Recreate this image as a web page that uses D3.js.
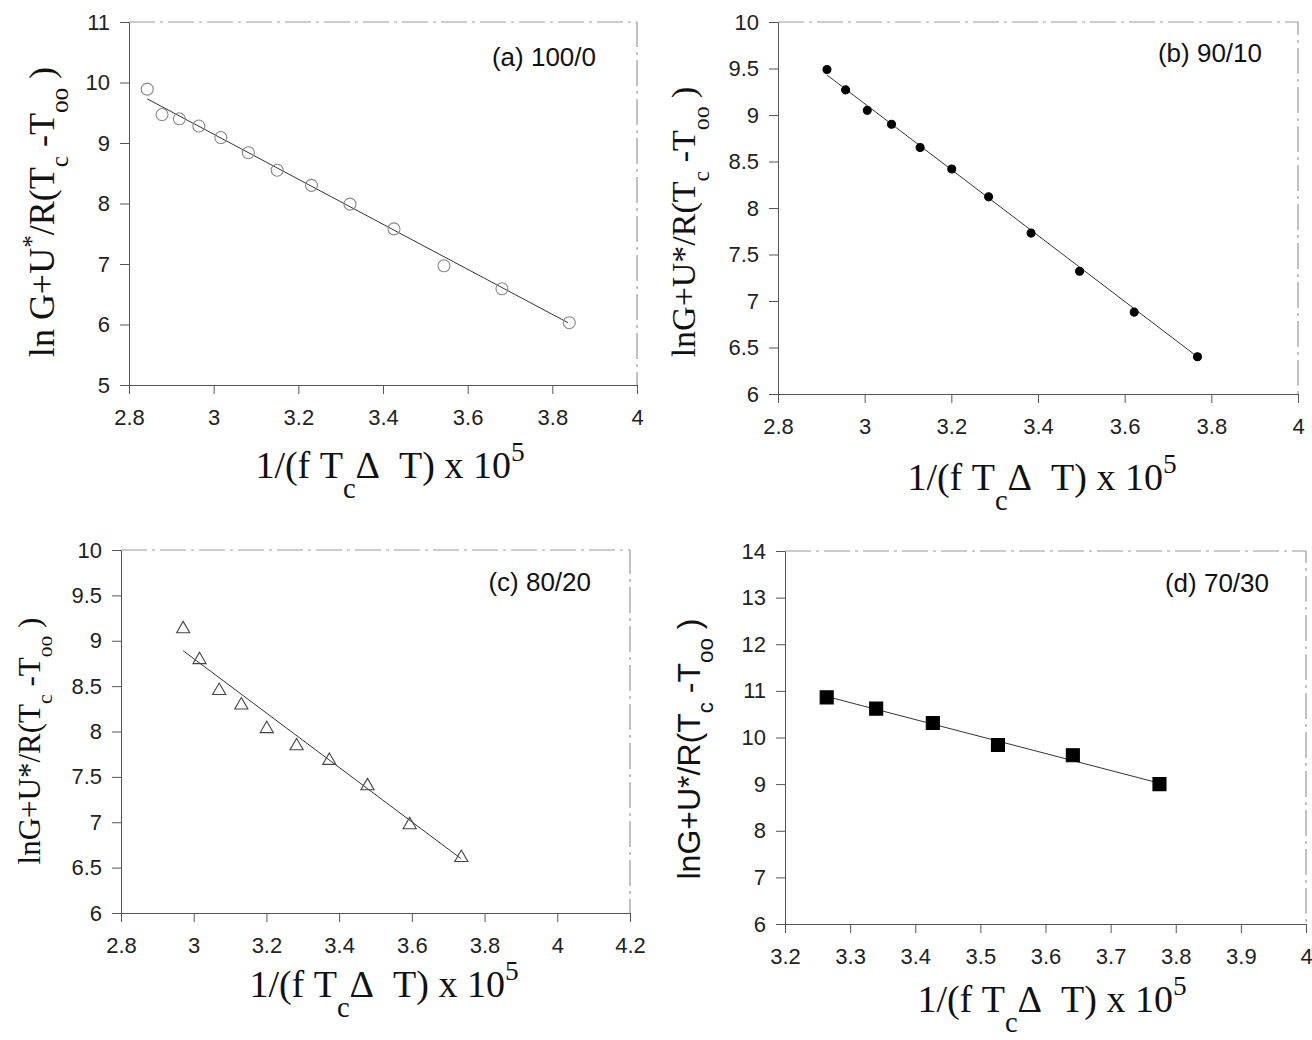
<!DOCTYPE html>
<html>
<head>
<meta charset="utf-8">
<script src="https://cdn.jsdelivr.net/npm/d3@7"></script>
<style>
body { margin: 0; background: #fff; }
svg { display: block; }
.tick text { font-family: "Liberation Sans", Arial, sans-serif; font-size: 22px; fill: #222; }
.tick line, .domain { stroke: #555; }
</style>
</head>
<body>
<div id="chart"></div>
<script>
// (a) 100/0  - open circles
var xA = [2.843, 2.878, 2.919, 2.965, 3.017, 3.082, 3.150, 3.231, 3.322, 3.426, 3.544, 3.681, 3.840];
var yA = [9.89, 9.47, 9.40, 9.28, 9.09, 8.84, 8.55, 8.30, 7.99, 7.58, 6.97, 6.59, 6.03];
var fitXA = [2.843, 3.837];
var fitYA = [9.73, 6.03];
var xTicksA = [2.8, 3, 3.2, 3.4, 3.6, 3.8, 4];
var yTicksA = [5, 6, 7, 8, 9, 10, 11];

// (b) 90/10 - filled circles
var xB = [2.913, 2.956, 3.006, 3.062, 3.128, 3.201, 3.286, 3.384, 3.496, 3.622, 3.768];
var yB = [9.49, 9.27, 9.05, 8.90, 8.65, 8.42, 8.12, 7.73, 7.32, 6.88, 6.40];
var fitXB = [2.913, 3.768];
var fitYB = [9.43, 6.40];
var xTicksB = [2.8, 3, 3.2, 3.4, 3.6, 3.8, 4];
var yTicksB = [6, 6.5, 7, 7.5, 8, 8.5, 9, 9.5, 10];

// (c) 80/20 - open triangles
var xC = [2.971, 3.016, 3.070, 3.131, 3.201, 3.283, 3.373, 3.478, 3.594, 3.736];
var yC = [9.13, 8.79, 8.45, 8.29, 8.03, 7.84, 7.68, 7.40, 6.97, 6.61];
var fitXC = [2.971, 3.735];
var fitYC = [8.89, 6.60];
var xTicksC = [2.8, 3, 3.2, 3.4, 3.6, 3.8, 4, 4.2];
var yTicksC = [6, 6.5, 7, 7.5, 8, 8.5, 9, 9.5, 10];

// (d) 70/30 - filled squares
var xD = [3.264, 3.340, 3.427, 3.527, 3.642, 3.775];
var yD = [10.86, 10.62, 10.31, 9.84, 9.62, 9.00];
var fitXD = [3.264, 3.775];
var fitYD = [10.88, 9.02];
var xTicksD = [3.2, 3.3, 3.4, 3.5, 3.6, 3.7, 3.8, 3.9, 4];
var yTicksD = [6, 7, 8, 9, 10, 11, 12, 13, 14];

var labels = ['(a) 100/0', '(b) 90/10', '(c) 80/20', '(d) 70/30'];

var svg = d3.select('#chart').append('svg')
	.attr('width', 1312)
	.attr('height', 1040);

var serif = '"Liberation Serif", "Times New Roman", serif';
var sans = '"Liberation Sans", Arial, sans-serif';

// text made of pieces: [string, shift (em, + is down), scale]
function richText(sel, parts, size) {
	var prev = 0;
	parts.forEach(function(p) {
		var shift = (p[1] || 0) * size;
		sel.append('tspan')
			.attr('dy', shift - prev)
			.attr('font-size', size * (p[2] || 1))
			.text(p[0]);
		prev = shift;
	});
}

var nb = '\u00a0';
var xTitleParts = [['1/(f' + nb + 'T'], ['c', 0.52, 0.75], ['\u0394' + nb + nb + 'T)' + nb + 'x' + nb + '10'], ['5', -0.45, 0.72], ['']];

function drawPanel(p) {
	var g = svg.append('g');
	var x = d3.scaleLinear().domain(d3.extent(p.xTicks)).range([p.left, p.right]);
	var y = d3.scaleLinear().domain(d3.extent(p.yTicks)).range([p.bottom, p.top]);

	// top / right frame (faint, broken like the scan)
	g.append('path')
		.attr('d', 'M' + p.left + ',' + p.top + 'H' + p.right + 'V' + p.bottom)
		.attr('fill', 'none')
		.attr('stroke', '#999')
		.attr('stroke-width', 1.2)
		.attr('stroke-dasharray', '26,5,3,5');

	g.append('g')
		.attr('transform', 'translate(0,' + p.bottom + ')')
		.call(d3.axisBottom(x).tickValues(p.xTicks).tickSize(9).tickSizeOuter(0).tickPadding(15).tickFormat(function(d) { return String(d); }));
	g.append('g')
		.attr('transform', 'translate(' + p.left + ',0)')
		.call(d3.axisLeft(y).tickValues(p.yTicks).tickSize(9).tickSizeOuter(0).tickPadding(10).tickFormat(function(d) { return String(d); }));

	// fitted line
	var line = d3.line()
		.x(function(d) { return x(d[0]); })
		.y(function(d) { return y(d[1]); });
	g.append('path')
		.datum(d3.zip(p.fitX, p.fitY))
		.attr('d', line)
		.attr('fill', 'none')
		.attr('stroke', '#333')
		.attr('stroke-width', 1);

	// markers
	var pts = d3.zip(p.xs, p.ys);
	g.selectAll('.pt').data(pts).enter().append('path')
		.attr('class', 'pt')
		.attr('transform', function(d) { return 'translate(' + x(d[0]) + ',' + y(d[1]) + ')'; })
		.attr('d', d3.symbol().type(p.symbol).size(p.size))
		.attr('fill', p.fill)
		.attr('stroke', p.stroke)
		.attr('stroke-width', 1.1);

	// panel label
	g.append('text')
		.attr('x', p.labelX)
		.attr('y', p.labelY)
		.attr('text-anchor', 'end')
		.attr('font-family', sans)
		.attr('font-size', 26)
		.attr('fill', '#111')
		.text(p.label);

	// y title
	var yt = g.append('text')
		.attr('transform', 'translate(' + p.yTitleX + ',' + p.yTitleY + ') rotate(-90)')
		.attr('text-anchor', 'middle')
		.attr('font-family', p.yTitleFont)
		.attr('fill', '#111');
	richText(yt, p.yTitleParts, p.yTitleSize);

	// x title
	var xt = g.append('text')
		.attr('x', p.xTitleX)
		.attr('y', p.xTitleY)
		.attr('text-anchor', 'middle')
		.attr('font-family', serif)
		.attr('fill', '#111');
	richText(xt, xTitleParts, 38);
}

var yPartsA = [['ln' + nb + 'G+U'], ['*', -0.4, 0.7], ['/R(T'], ['c', 0.4, 0.7], [nb + '-T'], ['oo', 0.4, 0.7], [nb + ')', 0]];
var yPartsB = [['lnG+U*/R(T'], ['c', 0.4, 0.7], [nb + '-T'], ['oo', 0.4, 0.7], [nb + ')', 0]];

drawPanel({
	xs: xA, ys: yA, fitX: fitXA, fitY: fitYA, xTicks: xTicksA, yTicks: yTicksA,
	left: 129, right: 637, top: 22, bottom: 385,
	symbol: d3.symbolCircle, size: 113, fill: 'none', stroke: '#888',
	label: labels[0], labelX: 596, labelY: 66,
	yTitleParts: yPartsA, yTitleFont: serif, yTitleSize: 36, yTitleX: 54, yTitleY: 212,
	xTitleX: 390, xTitleY: 478
});
drawPanel({
	xs: xB, ys: yB, fitX: fitXB, fitY: fitYB, xTicks: xTicksB, yTicks: yTicksB,
	left: 778, right: 1298, top: 22, bottom: 394,
	symbol: d3.symbolCircle, size: 50, fill: '#000', stroke: '#000',
	label: labels[1], labelX: 1262, labelY: 62,
	yTitleParts: yPartsB, yTitleFont: serif, yTitleSize: 34, yTitleX: 695, yTitleY: 222,
	xTitleX: 1042, xTitleY: 490
});
drawPanel({
	xs: xC, ys: yC, fitX: fitXC, fitY: fitYC, xTicks: xTicksC, yTicks: yTicksC,
	left: 121, right: 630, top: 550, bottom: 913,
	symbol: d3.symbolTriangle, size: 75, fill: 'none', stroke: '#444',
	label: labels[2], labelX: 591, labelY: 591,
	yTitleParts: yPartsB, yTitleFont: serif, yTitleSize: 31, yTitleX: 40, yTitleY: 741,
	xTitleX: 384, xTitleY: 997
});
drawPanel({
	xs: xD, ys: yD, fitX: fitXD, fitY: fitYD, xTicks: xTicksD, yTicks: yTicksD,
	left: 785, right: 1306, top: 551, bottom: 924,
	symbol: d3.symbolSquare, size: 169, fill: '#000', stroke: '#000',
	label: labels[3], labelX: 1269, labelY: 592,
	yTitleParts: yPartsB, yTitleFont: sans, yTitleSize: 32, yTitleX: 700, yTitleY: 749,
	xTitleX: 1052, xTitleY: 1012
});
</script>
</body>
</html>
